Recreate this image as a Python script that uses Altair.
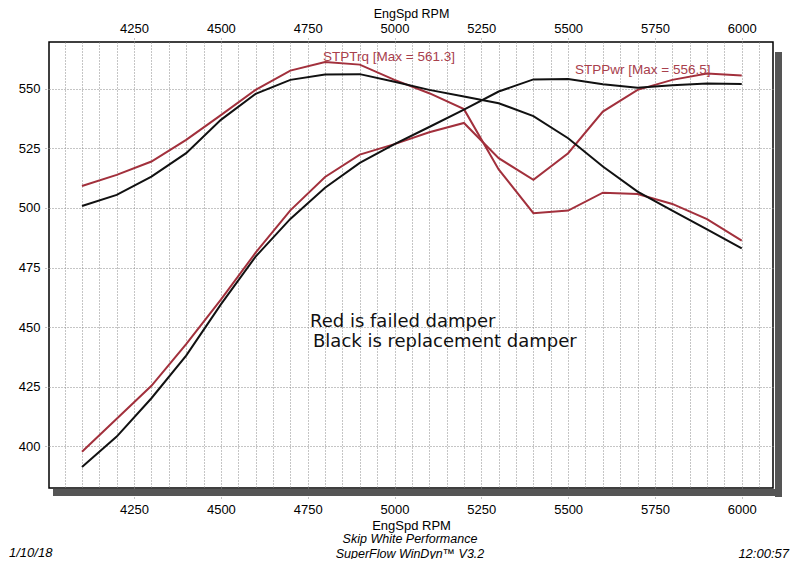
import altair as alt
import pandas as pd

# ---- data read from the dyno sheet ----
rpm = [4100, 4200, 4300, 4400, 4500, 4600, 4700, 4800, 4900, 5000,
       5100, 5200, 5300, 5400, 5500, 5600, 5700, 5800, 5900, 6000]

red_trq = [509.2, 513.9, 519.5, 528.6, 539.0, 549.6, 557.7, 561.3, 560.2, 553.8,
           548.2, 541.5, 516.2, 497.8, 498.9, 506.4, 505.9, 501.7, 495.3, 486.3]
red_pwr = [397.6, 411.5, 425.3, 442.8, 461.5, 481.2, 499.0, 513.0, 522.4, 526.8,
           531.8, 535.7, 520.9, 511.8, 523.0, 540.5, 549.6, 553.8, 556.5, 555.6]
black_trq = [500.8, 505.5, 513.2, 523.0, 537.0, 547.9, 553.8, 556.0, 556.2, 553.0,
             549.6, 546.8, 544.0, 538.6, 529.3, 517.4, 506.9, 498.9, 491.0, 483.0]
black_pwr = [391.2, 404.0, 420.1, 438.0, 459.5, 479.6, 495.4, 508.5, 518.9, 526.8,
             534.0, 541.3, 548.9, 554.0, 554.2, 552.0, 550.5, 551.5, 552.3, 552.1]

x_grid = list(range(4050, 6100, 50))
x_labels = [4250, 4500, 4750, 5000, 5250, 5500, 5750, 6000]
y_labels = [400, 425, 450, 475, 500, 525, 550]

RED = "#a2303c"
BLACK = "#111111"
FONT = "Liberation Sans"

rows = []
for test, kind, vals in [("failed", "trq", red_trq), ("failed", "pwr", red_pwr),
                         ("replacement", "trq", black_trq), ("replacement", "pwr", black_pwr)]:
    for r, v in zip(rpm, vals):
        rows.append({"rpm": r, "value": v, "test": test, "kind": kind, "key": test + kind})
df = pd.DataFrame(rows)

x_scale = alt.Scale(domain=[4005, 6090], nice=False, zero=False)
y_scale = alt.Scale(domain=[382.4, 569.7], nice=False, zero=False)

bottom_axis = alt.Axis(
    orient="bottom", values=x_grid,
    labelExpr="datum.value % 250 == 0 ? format(datum.value, 'd') : ''",
    labelOverlap=False, labelFlush=False,
    grid=True, gridDash=[1, 2], gridColor="#8a8a8a", gridWidth=1,
    domain=False, tickDash=[1, 2], tickColor="#8a8a8a", tickSize=10,
    tickOpacity={"condition": {"test": "datum.value % 250 == 0", "value": 1}, "value": 0},
    labelPadding=5, labelFontSize=13, labelFont=FONT, labelColor="black",
    title="EngSpd RPM", titleFont=FONT, titleFontSize=13, titleFontWeight="normal",
    titleColor="black", titlePadding=3,
)
top_axis = alt.Axis(
    orient="top", values=x_labels, format="d", labelOverlap=False, labelFlush=False,
    grid=False, domain=False, tickDash=[1, 2], tickColor="#8a8a8a", tickSize=4,
    labelPadding=3, labelFontSize=13, labelFont=FONT, labelColor="black",
    title="EngSpd RPM", titleFont=FONT, titleFontSize=12.5, titleFontWeight="normal",
    titleColor="black", titlePadding=2,
)
y_axis = alt.Axis(
    values=y_labels, format="d", grid=True, gridDash=[1, 2], gridColor="#8a8a8a",
    gridWidth=1, domain=False, tickDash=[1, 2], tickColor="#8a8a8a", tickSize=6,
    labelPadding=3, labelFontSize=13, labelFont=FONT, labelColor="black", title=None,
)

one = pd.DataFrame({"a": [0]})

shadow_r = alt.Chart(one).mark_rect(color="#555555").encode(
    x=alt.value(726), x2=alt.value(733), y=alt.value(10), y2=alt.value(455))
shadow_b = alt.Chart(one).mark_rect(color="#555555").encode(
    x=alt.value(4), x2=alt.value(733), y=alt.value(447), y2=alt.value(454))

lines = alt.Chart(df).mark_line(strokeWidth=2, clip=True).encode(
    x=alt.X("rpm:Q", scale=x_scale, axis=bottom_axis),
    y=alt.Y("value:Q", scale=y_scale, axis=y_axis),
    color=alt.Color("test:N", scale=alt.Scale(domain=["failed", "replacement"],
                                              range=[RED, BLACK]), legend=None),
    detail="key:N",
)
top = alt.Chart(df).mark_line(opacity=0).encode(
    x=alt.X("rpm:Q", scale=x_scale, axis=top_axis),
    y=alt.Y("value:Q", scale=y_scale, axis=y_axis),
    detail="key:N",
)


def label(txt, x, y, **kw):
    return alt.Chart(pd.DataFrame({"t": [txt]})).mark_text(**kw).encode(
        text="t:N", x=alt.value(x), y=alt.value(y))


texts = [
    label("STPTrq [Max = 561.3]", 274, 15, align="left", baseline="middle",
          font=FONT, fontSize=13.5, color="#a8404c"),
    label("STPPwr [Max = 556.5]", 526, 28, align="left", baseline="middle",
          font=FONT, fontSize=13.5, color="#a8404c"),
    label("Red is failed damper", 261, 280, align="left", baseline="middle",
          font="DejaVu Sans", fontSize=18, color="#111111"),
    label("Black is replacement damper", 264, 300, align="left", baseline="middle",
          font="DejaVu Sans", fontSize=18, color="#111111"),
    label("Skip White Performance", 361, 496.5, align="center", baseline="middle",
          font=FONT, fontSize=12.5, fontStyle="italic", color="black"),
    label("SuperFlow WinDyn\u2122 V3.2", 361, 511.5, align="center", baseline="middle",
          font=FONT, fontSize=12.5, fontStyle="italic", color="black"),
    label("1/10/18", -40, 510.5, align="left", baseline="middle",
          font=FONT, fontSize=13, fontStyle="italic", color="black"),
    label("12:00:57", 740, 511.5, align="right", baseline="middle",
          font=FONT, fontSize=13, fontStyle="italic", color="black"),
]

chart = alt.layer(shadow_r, shadow_b, lines, top, *texts).resolve_axis(
    x="independent"
).properties(
    width=724, height=446,
    autosize=alt.AutoSizeParams(type="none"),
    padding={"left": 41, "top": 34, "right": 17, "bottom": 71},
    background="white",
).configure_view(stroke="black", strokeWidth=1.5)

chart.save("out.html", embed_options={"renderer": "svg", "actions": False})
